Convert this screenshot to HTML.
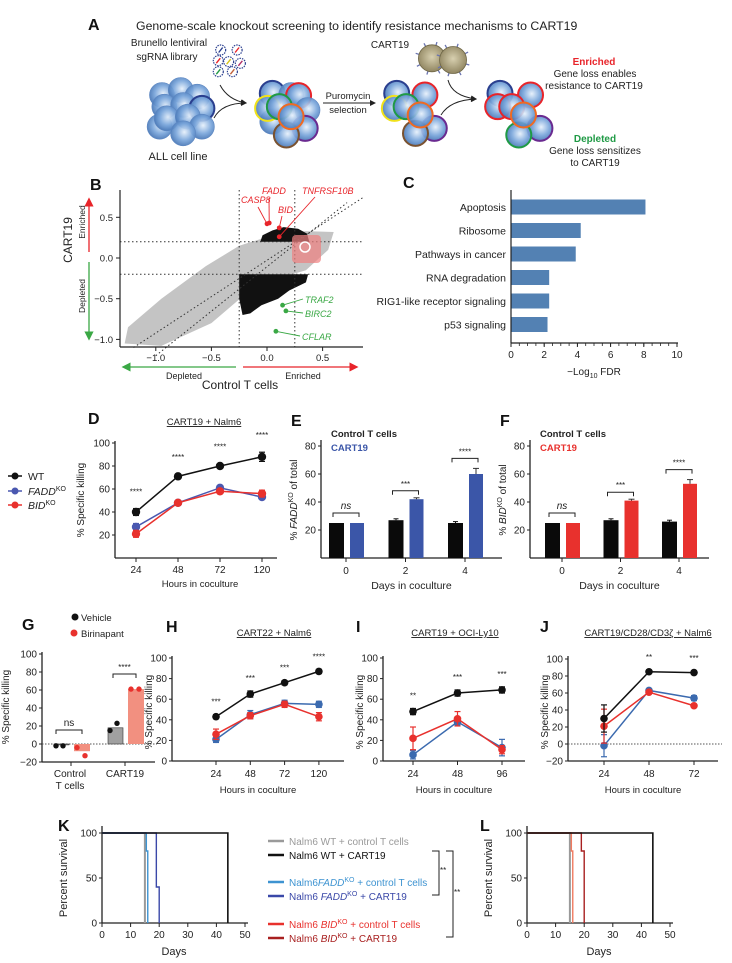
<!DOCTYPE html>
<html><head><meta charset="utf-8"><style>
html,body{margin:0;padding:0;background:#fff;}
svg{display:block;font-family:"Liberation Sans",sans-serif;}
</style></head><body>
<svg id="fig" width="732" height="963" viewBox="0 0 732 963" xmlns="http://www.w3.org/2000/svg"></svg>
<script>
// ---------- DATA ----------
const cCategories = ["Apoptosis","Ribosome","Pathways in cancer","RNA degradation","RIG1-like receptor signaling","p53 signaling"];
const cValues = [8.1,4.2,3.9,2.3,2.3,2.2];
const cTicks = [0,2,4,6,8,10];

const bGenesRed = ["CASP8","FADD","BID","TNFRSF10B"];
const bGenesRedX = [0.0,0.02,0.11,0.11];
const bGenesRedY = [0.42,0.43,0.37,0.26];
const bGenesGreen = ["TRAF2","BIRC2","CFLAR"];
const bGenesGreenX = [0.14,0.17,0.08];
const bGenesGreenY = [-0.58,-0.65,-0.9];
const bXTicks = [-1.0,-0.5,0.0,0.5];
const bYTicks = [0.5,0.0,-0.5,-1.0];

const dHours = ["24","48","72","120"];
const dWT = [40,71,80,88];
const dFADD = [27,48,61,53];
const dBID = [21,48,58,56];
const dErr = [3,2,2,4];
const dStars = ["****","****","****","****"];
const killTicks = [20,40,60,80,100];

const eDays = ["0","2","4"];
const eCtrl = [25,27,25];
const eCart = [25,42,60];
const eCartErr = [0,1,4];
const eStars = ["ns","***","****"];
const fCtrl = [25,27,26];
const fCart = [25,41,53];
const fCartErr = [0,1,3];
const fStars = ["ns","***","****"];
const pctTicks = [20,40,60,80];

const gGroups = ["Control","CART19"];
const gVehicle = [-1,18];
const gBirin = [-8,61];
const gVehPts1 = [-2,15];
const gVehPts2 = [-2,23];
const gBirPts1 = [-4,61];
const gBirPts2 = [-13,61];
const gTicks = [-20,0,20,40,60,80,100];

const hHours = ["24","48","72","120"];
const hBlack = [43,65,76,87];
const hBlue = [21,45,56,55];
const hRed = [26,44,55,43];
const hStars = ["***","***","***","****"];
const iHours = ["24","48","96"];
const iBlack = [48,66,69];
const iBlue = [6,38,13];
const iRed = [22,41,11];
const iErrB = [3,3,3];
const iErrBl = [4,3,8];
const iErrR = [11,7,4];
const iStars = ["**","***","***"];
const jHours = ["24","48","72"];
const jBlack = [30,85,84];
const jBlue = [-2,63,54];
const jRed = [21,61,45];
const jErrB = [16,2,2];
const jErrBl = [13,2,3];
const jErrR = [20,2,2];
const jStars = ["","**","***"];

const kmTicks = [0,10,20,30,40,50];
const kmYTicks = [0,50,100];
const kWTctrlT = [0,15,15];     const kWTctrlS = [100,100,0];
const kFADDctrlT = [0,15.5,15.5,16,16]; const kFADDctrlS = [100,100,80,80,0];
const kFADDcartT = [0,19,19,20,20]; const kFADDcartS = [100,100,40,40,0];
const kWTcartT = [0,44,44]; const kWTcartS = [100,100,0];
const lBIDctrlT = [0,15.5,15.5,16,16]; const lBIDctrlS = [100,100,80,80,0];
const lBIDcartT = [0,19,19,20,20]; const lBIDcartS = [100,100,80,80,0];

// ---------- HELPERS ----------
const S = document.getElementById('fig');
const NS = "http://www.w3.org/2000/svg";
function el(tag, attrs, name, parent){
  const e = document.createElementNS(NS, tag);
  for (const k in attrs) e.setAttribute(k, attrs[k]);
  
  
  (parent||S).appendChild(e);
  return e;
}
function tx(x,y,s,opts,name){
  const o = Object.assign({x:x,y:y,'font-size':10,fill:'#222'},opts||{});
  const t = el('text',o,name);
  t.innerHTML = s;
  return t;
}
function ln(x1,y1,x2,y2,st,w,name,dash){
  const a={x1:x1,y1:y1,x2:x2,y2:y2,stroke:st,'stroke-width':w};
  if(dash) a['stroke-dasharray']=dash;
  return el('line',a,name);
}
function lin(d0,d1,p0,p1){return v=>p0+(v-d0)*(p1-p0)/(d1-d0);}
function panelLetter(s,x,y){tx(x,y,s,{'font-size':16,'font-weight':'bold',fill:'#111'},'panel-label-'+s.toLowerCase());}
function yAxis(x,ticks,ys,y0,y1,name,fs){
  ln(x,y0,x,y1,'#222',1.3,name+'-line');
  ticks.forEach(t=>{const y=ys(t);ln(x-3,y,x,y,'#222',1,name+'-tick');
    tx(x-5,y+3.5,String(t).replace('-','\u2212'),{'text-anchor':'end','font-size':fs||10},name+'-label');});
}
function vtitle(x,y,html,name,fs){
  return tx(x,y,html,{'text-anchor':'middle','font-size':fs||10,transform:`rotate(-90 ${x} ${y})`},name);
}
function lineSeries(xs,vals,ys,color,name,err,r){
  let d='';vals.forEach((v,i)=>{d+=(i?'L':'M')+xs(i)+' '+ys(v);});
  el('path',{d:d,fill:'none',stroke:color,'stroke-width':1.5},name+'-line');
  vals.forEach((v,i)=>{
    const e=err?err[i]:2.5;
    ln(xs(i),ys(v-e),xs(i),ys(v+e),color,1.2,name+'-errorbar');
    ln(xs(i)-3,ys(v+e),xs(i)+3,ys(v+e),color,1.2,name+'-errorcap');
    ln(xs(i)-3,ys(v-e),xs(i)+3,ys(v-e),color,1.2,name+'-errorcap');
    el('circle',{cx:xs(i),cy:ys(v),r:r||3.8,fill:color},name+'-point');
  });
}
function bracket(x1,x2,y,label,name,italic){
  el('path',{d:`M${x1} ${y+4}V${y}H${x2}V${y+4}`,fill:'none',stroke:'#222','stroke-width':1},name+'-bracket');
  tx((x1+x2)/2,y-4,label,{'text-anchor':'middle','font-size':label==='ns'?10:8,'font-style':italic?'italic':'normal'},name+'-significance');
}

// ---------- PANEL A ----------
panelLetter('A',88,30);
tx(136,30,'Genome-scale knockout screening to identify resistance mechanisms to CART19',{'font-size':12.3},'panel-a-title');
tx(169,46,'Brunello lentiviral',{'text-anchor':'middle','font-size':10},'library-label');
tx(167,60,'sgRNA library',{'text-anchor':'middle','font-size':10},'library-label-2');
const defs=el('defs',{},'defs');
const g=el('radialGradient',{id:'cell',cx:'0.55',cy:'0.45',r:'0.6'},'cell-gradient',defs);
el('stop',{offset:'0','stop-color':'#e6f0fb'},'stop',g);
el('stop',{offset:'0.55','stop-color':'#7aa6db'},'stop',g);
el('stop',{offset:'1','stop-color':'#3f6fb0'},'stop',g);
const g2=el('radialGradient',{id:'tcell',cx:'0.5',cy:'0.45',r:'0.6'},'tcell-gradient',defs);
el('stop',{offset:'0','stop-color':'#d8d0b0'},'stop',g2);
el('stop',{offset:'1','stop-color':'#8a7f5a'},'stop',g2);
function cells(list,name){
  list.forEach(c=>{el('circle',{cx:c[0]/2.13,cy:c[1]/3,r:12.5,fill:'url(#cell)',stroke:c[2]||'#5d87c2','stroke-width':c[2]?2:0.6,'fill-opacity':0.92},name);});
}
cells([[345,285],[385,270],[420,290],[350,320],[390,315],[340,380],[430,325,'#2a3f8f'],[355,355],[400,350],[430,380],[390,400]],'all-cell-line-cell');
cells([[580,280,'#2a3f8f'],[620,285],[636,287,'#e8242a'],[655,330],[580,365],[650,385,'#6a2a90'],[610,405,'#7a5230'],[570,325,'#f1e21a'],[595,320,'#1f9a45'],[620,350,'#f06a22']],'transduced-cell');
cells([[845,280,'#2a3f8f'],[905,285,'#e8242a'],[925,385,'#6a2a90'],[885,400,'#7a5230'],[840,325,'#f1e21a'],[865,320,'#1f9a45'],[895,345,'#f06a22']],'selected-cell');
cells([[1065,280,'#2a3f8f'],[1130,285,'#e8242a'],[1150,385,'#6a2a90'],[1105,405,'#1f9a45'],[1060,320,'#e8242a'],[1090,320,'#e8242a'],[1115,345,'#f06a22']],'surviving-cell');
[[470,150,'#2a3f8f'],[505,150,'#e8242a'],[465,182,'#e8242a'],[487,185,'#d4c41a'],[512,190,'#b0306a'],[465,215,'#1f9a45'],[495,215,'#c0603a']].forEach(c=>{
  el('circle',{cx:c[0]/2.13,cy:c[1]/3,r:5,fill:'#fff',stroke:'#2a3f8f','stroke-width':1.2,'stroke-dasharray':'1.5 1'},'sgrna-virus');
  ln(c[0]/2.13-2,c[1]/3+2.5,c[0]/2.13+2,c[1]/3-2.5,c[2],1.4,'sgrna');
});
[[920,175],[965,180]].forEach(c=>{
  const cx=c[0]/2.13,cy=c[1]/3;
  for(let a=0;a<8;a++){const r=a*Math.PI/4+0.3;ln(cx+13*Math.cos(r),cy+13*Math.sin(r),cx+17*Math.cos(r),cy+17*Math.sin(r),'#6a74b0',1.3,'car-receptor');}
  el('circle',{cx:cx,cy:cy,r:13.5,fill:'url(#tcell)',stroke:'#6d6545','stroke-width':0.8},'cart19-cell');
});
tx(390,48,'CART19',{'text-anchor':'middle','font-size':10},'cart19-label');
el('marker',{id:'ah',markerWidth:6,markerHeight:6,refX:5,refY:3,orient:'auto'},'arrowhead',defs).innerHTML='<path d="M0,0 L6,3 L0,6 z" fill="#222"/>';
[['M220 85 Q228 100 246 103'],['M214 118 Q222 103 246 103'],['M448 80 Q452 96 476 99'],['M441 115 Q450 100 476 99']].forEach(p=>el('path',{d:p[0],fill:'none',stroke:'#222','stroke-width':1,'marker-end':'url(#ah)'},'process-arrow'));
el('line',{x1:323,y1:103,x2:375,y2:103,stroke:'#222','stroke-width':1,'marker-end':'url(#ah)'},'puromycin-arrow');
tx(348,99,'Puromycin',{'text-anchor':'middle','font-size':9.5},'puromycin-label');
tx(348,113,'selection',{'text-anchor':'middle','font-size':9.5},'selection-label');
tx(178,160,'ALL cell line',{'text-anchor':'middle','font-size':11},'all-cell-line-label');
tx(594,65,'Enriched',{'text-anchor':'middle','font-size':10,'font-weight':'bold',fill:'#e8242a'},'enriched-heading');
tx(595,77,'Gene loss enables',{'text-anchor':'middle','font-size':10},'enriched-desc-1');
tx(594,89,'resistance to CART19',{'text-anchor':'middle','font-size':10},'enriched-desc-2');
tx(595,142,'Depleted',{'text-anchor':'middle','font-size':10,'font-weight':'bold',fill:'#1f9a45'},'depleted-heading');
tx(595,154,'Gene loss sensitizes',{'text-anchor':'middle','font-size':10},'depleted-desc-1');
tx(595,166,'to CART19',{'text-anchor':'middle','font-size':10},'depleted-desc-2');

// ---------- PANEL B ----------
panelLetter('B',90,190);
const bx=lin(0,0.5,267,322.6), by=lin(0,0.5,258,217.3);
const clip=el('clipPath',{id:'bclip'},'b-clip',defs);
el('rect',{x:120,y:186,width:243,height:161},'b-clip-rect',clip);
const gb=el('g',{'clip-path':'url(#bclip)'},'scatter-area');
function poly(pts,fill,name){el('polygon',{points:pts.map(p=>bx(p[0])+','+by(p[1])).join(' '),fill:fill},name,gb);}
poly([[-1.28,-1.05],[-0.95,-1.08],[-0.5,-0.8],[-0.2,-0.45],[0.1,-0.25],[0.35,-0.15],[0.55,0.1],[0.6,0.32],[0.35,0.33],[0.05,0.28],[-0.25,0.15],[-0.55,-0.1],[-0.95,-0.5],[-1.25,-0.85]],'#c4c4c4','gray-gene-cloud');
poly([[-0.06,0.2],[0.38,0.2],[0.36,0.3],[0.28,0.36],[0.15,0.38],[0.05,0.34],[-0.04,0.28]],'#111','enriched-gene-cluster');
poly([[-0.25,-0.2],[0.37,-0.2],[0.35,-0.3],[0.2,-0.4],[0.1,-0.5],[-0.05,-0.58],[-0.15,-0.68],[-0.22,-0.7],[-0.25,-0.5]],'#111','depleted-gene-cluster');
ln(bx(-1.2),by(-1.1),bx(0.86),by(0.74),'#333',1,'diagonal-line','1.5 2.5');
ln(bx(-1.0),by(-1.2),bx(0.72),by(0.68),'#333',1,'diagonal-line','1.5 2.5');
[-0.25,0.25].forEach(v=>ln(bx(v),190,bx(v),347,'#333',1,'x-threshold','1.5 2.5'));
[0.2,-0.2].forEach(v=>ln(120,by(v),363,by(v),'#333',1,'y-threshold','1.5 2.5'));
ln(120,190,120,347,'#222',1.2,'b-y-axis');
ln(120,347,363,347,'#222',1.2,'b-x-axis');
bYTicks.forEach(t=>{ln(116,by(t),120,by(t),'#222',1,'b-y-tick');tx(113,by(t)+3.5,t.toFixed(1).replace('-','\u2212'),{'text-anchor':'end','font-size':9.5},'b-y-tick-label');});
bXTicks.forEach(t=>{ln(bx(t),347,bx(t),351,'#222',1,'b-x-tick');tx(bx(t),361,t.toFixed(1).replace('-','\u2212'),{'text-anchor':'middle','font-size':9.5},'b-x-tick-label');});
el('rect',{x:292,y:235,width:29,height:28,rx:4,fill:'#f08080','fill-opacity':0.7},'zoom-overlay-icon');
el('circle',{cx:305,cy:247,r:5,fill:'none',stroke:'#fff','stroke-width':1.5},'zoom-overlay-glass');
bGenesRed.forEach((gname,i)=>el('circle',{cx:bx(bGenesRedX[i]),cy:by(bGenesRedY[i]),r:2.4,fill:'#e8242a'},'gene-point-'+gname.toLowerCase()));
bGenesGreen.forEach((gname,i)=>el('circle',{cx:bx(bGenesGreenX[i]),cy:by(bGenesGreenY[i]),r:2.4,fill:'#3aa845'},'gene-point-'+gname.toLowerCase()));
const redLab=[[241,203],[262,194],[278,213],[302,194]];
const redLine=[[258,207],[269,198],[282,216],[315,197]];
bGenesRed.forEach((gname,i)=>{ln(bx(bGenesRedX[i]),by(bGenesRedY[i]),redLine[i][0],redLine[i][1],'#e8242a',0.9,'gene-leader');
  tx(redLab[i][0],redLab[i][1],gname,{'font-size':9,'font-style':'italic',fill:'#e8242a'},'gene-label-'+gname.toLowerCase());});
const grLab=[[305,303],[305,317],[302,340]];
bGenesGreen.forEach((gname,i)=>{ln(bx(bGenesGreenX[i]),by(bGenesGreenY[i]),grLab[i][0]-2,grLab[i][1]-4,'#3aa845',0.9,'gene-leader');
  tx(grLab[i][0],grLab[i][1],gname,{'font-size':9,'font-style':'italic',fill:'#3aa845'},'gene-label-'+gname.toLowerCase());});
vtitle(72,240,'CART19','b-y-title',12);
el('marker',{id:'ahr',markerWidth:7,markerHeight:7,refX:5,refY:3.5,orient:'auto'},'arrowhead-red',defs).innerHTML='<path d="M0,0 L7,3.5 L0,7 z" fill="#e8242a"/>';
el('marker',{id:'ahg',markerWidth:7,markerHeight:7,refX:5,refY:3.5,orient:'auto'},'arrowhead-green',defs).innerHTML='<path d="M0,0 L7,3.5 L0,7 z" fill="#3aa845"/>';
el('line',{x1:89,y1:252,x2:89,y2:200,stroke:'#e8242a','stroke-width':1.3,'marker-end':'url(#ahr)'},'enriched-arrow');
el('line',{x1:89,y1:262,x2:89,y2:338,stroke:'#3aa845','stroke-width':1.3,'marker-end':'url(#ahg)'},'depleted-arrow');
vtitle(85,222,'Enriched','b-enriched-y',8.5);
vtitle(85,296,'Depleted','b-depleted-y',8.5);
el('line',{x1:236,y1:367,x2:124,y2:367,stroke:'#3aa845','stroke-width':1.3,'marker-end':'url(#ahg)'},'depleted-x-arrow');
el('line',{x1:243,y1:367,x2:356,y2:367,stroke:'#e8242a','stroke-width':1.3,'marker-end':'url(#ahr)'},'enriched-x-arrow');
tx(184,379,'Depleted',{'text-anchor':'middle','font-size':9},'b-depleted-x');
tx(303,379,'Enriched',{'text-anchor':'middle','font-size':9},'b-enriched-x');
tx(240,389,'Control T cells',{'text-anchor':'middle','font-size':12},'b-x-title');

// ---------- PANEL C ----------
panelLetter('C',403,188);
const cx=lin(0,10,511,677);
const cy=i=>207+i*23.5;
cCategories.forEach((c,i)=>{
  el('rect',{x:cx(0),y:cy(i)-7.5,width:cx(cValues[i])-cx(0),height:15,fill:'#5381b3'},'bar-'+c.toLowerCase().replace(/ /g,'-'));
  tx(506,cy(i)+4,c,{'text-anchor':'end','font-size':10.5},'c-category-label');
});
ln(511,190,511,343,'#222',1.2,'c-y-axis');
ln(511,343,678,343,'#222',1.2,'c-x-axis');
cTicks.forEach(t=>{ln(cx(t),343,cx(t),347,'#222',1,'c-x-tick');tx(cx(t),358,String(t),{'text-anchor':'middle','font-size':10},'c-x-tick-label');});
for(let m=0.5;m<10;m+=0.5){ln(cx(m),343,cx(m),346,'#222',0.8,'c-minor-tick');}
tx(594,375,'\u2212Log<tspan font-size="7" dy="3">10</tspan><tspan dy="-3"> FDR</tspan>',{'text-anchor':'middle','font-size':10},'c-x-title');

// ---------- PANEL D ----------
panelLetter('D',88,424);
tx(204,425,'CART19 + Nalm6',{'text-anchor':'middle','font-size':9.5,'text-decoration':'underline'},'d-title');
const dy=lin(0,100,558,443), dx=i=>136+i*42;
yAxis(115,killTicks,dy,441,558,'d-y-axis',10);
ln(115,558,277,558,'#222',1.3,'d-x-axis');
dHours.forEach((h,i)=>{ln(dx(i),558,dx(i),562,'#222',1,'d-x-tick');tx(dx(i),573,h,{'text-anchor':'middle','font-size':10},'d-x-tick-label');});
lineSeries(dx,dFADD,dy,'#4a58b0','d-fadd',[3,2,2,2],4.2);
lineSeries(dx,dBID,dy,'#e8312d','d-bid',[3,2,2,3],4.2);
lineSeries(dx,dWT,dy,'#111','d-wt',dErr,4.2);
dStars.forEach((s,i)=>tx(dx(i),dy(dWT[i]+dErr[i])-14,s,{'text-anchor':'middle','font-size':8},'d-significance'));
vtitle(84,500,'% Specific killing','d-y-title',10);
tx(200,587,'Hours in coculture',{'text-anchor':'middle','font-size':9.5},'d-x-title');
[['WT','#111',476],['<tspan font-style="italic">FADD</tspan><tspan font-size="7" dy="-4">KO</tspan>','#4a58b0',491],['<tspan font-style="italic">BID</tspan><tspan font-size="7" dy="-4">KO</tspan>','#e8312d',505]].forEach(l=>{
  ln(8,l[2],22,l[2],l[1],1.5,'legend-line');el('circle',{cx:15,cy:l[2],r:3.5,fill:l[1]},'legend-marker');
  tx(28,l[2]+4,l[0],{'font-size':10.5},'legend-entry');
});

// ---------- PANEL E & F ----------
function barPanel(letter,x0,x1,groupX,ctrl,cart,err,stars,color,ko,titleColor){
  const y=lin(0,80,558,446);
  yAxis(x0,pctTicks,y,440,558,letter+'-y-axis',10);
  ln(x0,558,x1,558,'#222',1.3,letter+'-x-axis');
  eDays.forEach((d,i)=>{
    const gx=groupX(i);
    el('rect',{x:gx-17,y:y(ctrl[i]),width:15,height:558-y(ctrl[i]),fill:'#0a0a0a'},letter+'-bar-control-day'+d);
    el('rect',{x:gx+4,y:y(cart[i]),width:14,height:558-y(cart[i]),fill:color},letter+'-bar-cart19-day'+d);
    if(i>0){ln(gx-9.5,y(ctrl[i]),gx-9.5,y(ctrl[i]+1),'#111',1,'errorbar');ln(gx-12,y(ctrl[i]+1),gx-7,y(ctrl[i]+1),'#111',1,'errorcap');}
    if(err[i]>0){ln(gx+11,y(cart[i]),gx+11,y(cart[i]+err[i]),'#333',1,'errorbar');ln(gx+8,y(cart[i]+err[i]),gx+14,y(cart[i]+err[i]),'#333',1,'errorcap');}
    ln(gx,558,gx,562,'#222',1,letter+'-x-tick');
    tx(gx,574,d,{'text-anchor':'middle','font-size':10},letter+'-x-tick-label');
    const top=Math.max(ctrl[i],cart[i]+err[i]);
    bracket(gx-13,gx+13,y(top)-(i==1?7:10),stars[i],letter+'-comparison',stars[i]==='ns');
  });
  tx(x0+10,437,'Control T cells',{'font-size':9.5,'font-weight':'bold'},letter+'-legend-control');
  tx(x0+10,451,'CART19',{'font-size':9.5,'font-weight':'bold',fill:titleColor},letter+'-legend-cart19');
  vtitle(x0-24,500,'% <tspan font-style="italic">'+ko+'</tspan><tspan font-size="7" dy="-4">KO</tspan><tspan dy="4"> of total</tspan>',letter+'-y-title',10);
  tx((x0+x1)/2,589,'Days in coculture',{'text-anchor':'middle','font-size':10.5},letter+'-x-title');
}
panelLetter('E',291,426);
barPanel('e',321,502,i=>346+i*59.5,eCtrl,eCart,eCartErr,eStars,'#3b56a8','FADD','#3b56a8');
panelLetter('F',500,426);
barPanel('f',530,709,i=>562+i*58.5,fCtrl,fCart,fCartErr,fStars,'#e8312d','BID','#e8312d');

// ---------- PANEL G ----------
panelLetter('G',22,630);
el('circle',{cx:75,cy:617,r:3.5,fill:'#111'},'g-legend-vehicle-marker');
tx(81,621,'Vehicle',{'font-size':9.5},'g-legend-vehicle');
el('circle',{cx:74,cy:633,r:3.5,fill:'#e8312d'},'g-legend-birinapant-marker');
tx(81,637,'Birinapant',{'font-size':9.5},'g-legend-birinapant');
const gy=lin(0,100,744,654);
yAxis(42,gTicks,gy,652,762,'g-y-axis',10);
ln(42,762,155,762,'#222',1.3,'g-x-axis');
ln(42,744,157,744,'#555',1,'g-zero-line','1.5 1.5');
const gcx=i=>71+i*54;
gGroups.forEach((gr,i)=>{
  const c=gcx(i);
  el('rect',{x:c-17,y:Math.min(gy(gVehicle[i]),744),width:15,height:Math.abs(gy(gVehicle[i])-744),fill:'#a0a0a0',stroke:'#333','stroke-width':0.6},'g-bar-vehicle-'+gr.toLowerCase());
  el('rect',{x:c+3,y:Math.min(gy(gBirin[i]),744),width:16,height:Math.abs(gy(gBirin[i])-744),fill:'#f29080'},'g-bar-birinapant-'+gr.toLowerCase());
  el('circle',{cx:c-15,cy:gy(gVehPts1[i]),r:2.7,fill:'#111'},'g-point-vehicle');
  el('circle',{cx:c-8,cy:gy(gVehPts2[i]),r:2.7,fill:'#111'},'g-point-vehicle');
  el('circle',{cx:c+6,cy:gy(gBirPts1[i]),r:2.7,fill:'#e8312d'},'g-point-birinapant');
  el('circle',{cx:c+14,cy:gy(gBirPts2[i]),r:2.7,fill:'#e8312d'},'g-point-birinapant');
  ln(c,762,c,766,'#222',1,'g-x-tick');
});
bracket(56,82,730,'ns','g-ns');
bracket(113,136,674,'****','g-cart19');
tx(70,777,'Control',{'text-anchor':'middle','font-size':10},'g-x-label-control');
tx(70,789,'T cells',{'text-anchor':'middle','font-size':10},'g-x-label-tcells');
tx(125,777,'CART19',{'text-anchor':'middle','font-size':10},'g-x-label-cart19');
vtitle(9,707,'% Specific killing','g-y-title',10);

// ---------- PANELS H, I, J ----------
function linePanel(letter,title,x0,x1,xs,cats,yMin,ticks,black,blue,red,eB,eBl,eR,stars,titleX){
  const yy=yMin<0?lin(-20,100,761,659):lin(0,100,761,658);
  yAxis(x0,ticks,yy,656,761,letter+'-y-axis',10);
  ln(x0,761,x1,761,'#222',1.3,letter+'-x-axis');
  if(yMin<0) ln(x0,yy(0),x1+4,yy(0),'#555',1,letter+'-zero-line','1.5 1.5');
  cats.forEach((c,i)=>{ln(xs(i),761,xs(i),765,'#222',1,letter+'-x-tick');tx(xs(i),777,c,{'text-anchor':'middle','font-size':10},letter+'-x-tick-label');});
  lineSeries(xs,blue,yy,'#3b6aaf',letter+'-blue',eBl);
  lineSeries(xs,red,yy,'#e8312d',letter+'-red',eR);
  lineSeries(xs,black,yy,'#111',letter+'-black',eB);
  stars.forEach((s,i)=>{if(s)tx(xs(i),yy(black[i]+eB[i])-10,s,{'text-anchor':'middle','font-size':8},letter+'-significance');});
  vtitle(x0-20,712,'% Specific killing',letter+'-y-title',10);
  tx((x0+x1)/2,793,'Hours in coculture',{'text-anchor':'middle','font-size':9.5},letter+'-x-title');
  tx(titleX,636,title,{'text-anchor':'middle','font-size':9.5,'text-decoration':'underline'},letter+'-title');
}
panelLetter('H',166,632);
linePanel('h','CART22 + Nalm6',172,344,i=>216+i*34.3,hHours,0,[0,20,40,60,80,100],hBlack,hBlue,hRed,[2,3,2,2],[3,4,3,3],[5,3,3,4],hStars,274);
panelLetter('I',356,632);
linePanel('i','CART19 + OCI-Ly10',383,525,i=>413+i*44.5,iHours,0,[0,20,40,60,80,100],iBlack,iBlue,iRed,iErrB,iErrBl,iErrR,iStars,455);
panelLetter('J',540,632);
linePanel('j','CART19/CD28/CD3\u03b6 + Nalm6',568,718,i=>604+i*45,jHours,-20,[-20,0,20,40,60,80,100],jBlack,jBlue,jRed,jErrB,jErrBl,jErrR,jStars,648);

// ---------- PANELS K & L ----------
function km(letter,x0,curves){
  const x=lin(0,50,x0,x0+143), y=lin(0,100,923,833);
  ln(x0,826,x0,923,'#222',1.3,letter+'-y-axis');
  ln(x0,923,x0+146,923,'#222',1.3,letter+'-x-axis');
  kmYTicks.forEach(t=>{ln(x0-3,y(t),x0,y(t),'#222',1,letter+'-y-tick');tx(x0-5,y(t)+3.5,String(t),{'text-anchor':'end','font-size':10},letter+'-y-tick-label');});
  kmTicks.forEach(t=>{ln(x(t),923,x(t),927,'#222',1,letter+'-x-tick');tx(x(t),938,String(t),{'text-anchor':'middle','font-size':10},letter+'-x-tick-label');});
  curves.forEach(c=>{
    let d='';c.t.forEach((tt,i)=>{d+=(i?'L':'M')+x(tt)+' '+y(c.s[i]);});
    el('path',{d:d,fill:'none',stroke:c.col,'stroke-width':c.w||1.4},letter+'-curve-'+c.name);
  });
  vtitle(x0-35,878,'Percent survival',letter+'-y-title',11);
  tx(x0+72,955,'Days',{'text-anchor':'middle','font-size':11},letter+'-x-title');
}
panelLetter('K',58,831);
km('k',102,[{t:kWTctrlT,s:kWTctrlS,col:'#9a9a9a',name:'wt-control',w:2},{t:kFADDctrlT,s:kFADDctrlS,col:'#3d93d1',name:'fadd-control'},{t:kFADDcartT,s:kFADDcartS,col:'#3a48a8',name:'fadd-cart19'},{t:kWTcartT,s:kWTcartS,col:'#111',name:'wt-cart19',w:1.6}]);
panelLetter('L',480,831);
km('l',527,[{t:kWTctrlT,s:kWTctrlS,col:'#9a9a9a',name:'wt-control',w:2},{t:lBIDctrlT,s:lBIDctrlS,col:'#f07a60',name:'bid-control'},{t:lBIDcartT,s:lBIDcartS,col:'#a82020',name:'bid-cart19'},{t:kWTcartT,s:kWTcartS,col:'#111',name:'wt-cart19',w:1.6}]);
const kLeg=[['Nalm6 WT + control T cells','#9a9a9a',841],['Nalm6 WT + CART19','#111',855],['Nalm6<tspan font-style="italic">FADD</tspan><tspan font-size="7" dy="-4">KO</tspan><tspan dy="4"> + control T cells</tspan>','#3d93d1',882],['Nalm6 <tspan font-style="italic">FADD</tspan><tspan font-size="7" dy="-4">KO</tspan><tspan dy="4"> + CART19</tspan>','#3a48a8',896],['Nalm6 <tspan font-style="italic">BID</tspan><tspan font-size="7" dy="-4">KO</tspan><tspan dy="4"> + control T cells</tspan>','#e8312d',924],['Nalm6 <tspan font-style="italic">BID</tspan><tspan font-size="7" dy="-4">KO</tspan><tspan dy="4"> + CART19</tspan>','#a82020',938]];
kLeg.forEach(l=>{ln(268,l[2],284,l[2],l[1],2.5,'k-legend-line');tx(289,l[2]+4,l[0],{'font-size':10,fill:l[1]},'k-legend-entry');});
el('path',{d:'M432 851H439V895H432',fill:'none',stroke:'#222','stroke-width':1},'k-bracket-fadd');
tx(440,873,'**',{'font-size':8},'k-significance-fadd');
el('path',{d:'M446 851H453V937H446',fill:'none',stroke:'#222','stroke-width':1},'k-bracket-bid');
tx(454,895,'**',{'font-size':8},'k-significance-bid');
</script>
</body></html>
